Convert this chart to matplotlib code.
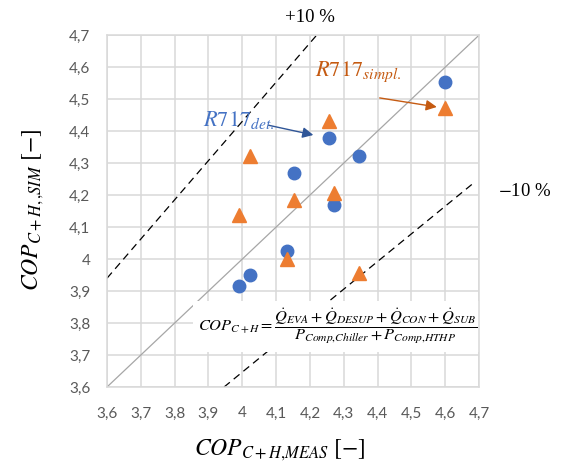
import matplotlib
matplotlib.use("Agg")
import matplotlib.pyplot as plt
from matplotlib.ticker import FixedLocator, FuncFormatter

plt.rcParams['mathtext.fontset'] = 'stix'
plt.rcParams['font.family'] = ['Lato', 'DejaVu Sans']

# Measured vs simulated COP (combined cooling + heating)
det_meas = [4.60, 4.255, 4.346, 4.154, 4.272, 4.133, 4.024, 3.991]
det_sim = [4.552, 4.379, 4.323, 4.270, 4.169, 4.026, 3.951, 3.915]

simpl_meas = [4.60, 4.255, 4.023, 4.154, 4.272, 3.990, 4.133, 4.346]
simpl_sim = [4.471, 4.431, 4.322, 4.184, 4.207, 4.138, 4.000, 3.955]

ticks = [3.6, 3.7, 3.8, 3.9, 4.0, 4.1, 4.2, 4.3, 4.4, 4.5, 4.6, 4.7]

# Reference lines: 1:1 and the +/-10 % bands
ident_x = [3.6, 4.7]
ident_y = [3.6, 4.7]
plus10_x = [3.6, 4.22]
plus10_y = [3.94, 4.70]
minus10_x = [3.946, 4.684]
minus10_y = [3.60, 4.238]

BLUE = '#4472C4'
ORANGE = '#ED7D31'
GRID = '#D9D9D9'
TICK = '#595959'

fig = plt.figure(figsize=(5.63, 4.68), dpi=100)
ax = fig.add_axes([0.190, 0.173, 0.661, 0.752])

ax.set_xlim(3.6, 4.7)
ax.set_ylim(3.6, 4.7)
ax.xaxis.set_major_locator(FixedLocator(ticks))
ax.yaxis.set_major_locator(FixedLocator(ticks))
fmt = FuncFormatter(lambda v, p: f"{v:g}".replace('.', ','))
ax.xaxis.set_major_formatter(fmt)
ax.yaxis.set_major_formatter(fmt)
ax.tick_params(length=0, labelsize=11, labelcolor=TICK)
ax.tick_params(axis='x', pad=14)
ax.tick_params(axis='y', pad=12)
ax.grid(True, color=GRID, lw=1.1, zorder=0)
ax.set_axisbelow(True)
for s in ax.spines.values():
    s.set_color(GRID)
    s.set_linewidth(1.1)

ax.plot(ident_x, ident_y, color='#A6A6A6', lw=0.9, zorder=1)
ax.plot(plus10_x, plus10_y, color='black', lw=0.9, ls=(0, (6, 4)), zorder=1)
ax.plot(minus10_x, minus10_y, color='black', lw=0.9, ls=(0, (6, 4)), zorder=1)

ax.plot(det_meas, det_sim, ls='none', marker='o', ms=9, color=BLUE,
        mec=BLUE, zorder=3)
ax.plot(simpl_meas, simpl_sim, ls='none', marker='^', ms=10, color=ORANGE,
        mec=ORANGE, zorder=3)

# Formula box
ax.text(4.283, 3.79,
        r'$COP_{C+H} = \dfrac{\dot{Q}_{EVA} + \dot{Q}_{DESUP} + \dot{Q}_{CON} + \dot{Q}_{SUB}}'
        r'{P_{Comp{,}Chiller} + P_{Comp{,}HTHP}}$',
        ha='center', va='center', fontsize=11.8, zorder=2,
        bbox=dict(facecolor='white', edgecolor='none', pad=4))

# Series annotations
ax.text(3.885, 4.435, r'$R717_{det.}$', color=BLUE, fontsize=16,
        ha='left', va='center', zorder=4)
ax.annotate('', xy=(4.218, 4.386), xytext=(4.07, 4.420),
            arrowprops=dict(arrowstyle='-|>', color='#2F5597', lw=1.0,
                            mutation_scale=16), zorder=4)
ax.text(4.215, 4.585, r'$R717_{simpl.}$', color='#C55A11', fontsize=16,
        ha='left', va='center', zorder=4)
ax.annotate('', xy=(4.583, 4.474), xytext=(4.398, 4.505),
            arrowprops=dict(arrowstyle='-|>', color='#C55A11', lw=1.0,
                            mutation_scale=16), zorder=4)

fig.text(310 / 563, 1 - 18 / 468, '+10 %', ha='center', va='center',
         fontsize=13.5, family='Liberation Serif')
fig.text(525 / 563, 1 - 191 / 468, r'$-$10 %', ha='center', va='center',
         fontsize=13.5, family='Liberation Serif')

fig.text(280 / 563, 1 - 450 / 468, r'$COP_{C+H{,}MEAS}\ [-]$', ha='center',
         va='center', fontsize=17)
fig.text(33 / 563, 1 - 210 / 468, r'$COP_{C+H{,}\,{,}SIM}\ [-]$', ha='center',
         va='center', rotation=90, fontsize=17)

fig.savefig('out.png', dpi=100)
